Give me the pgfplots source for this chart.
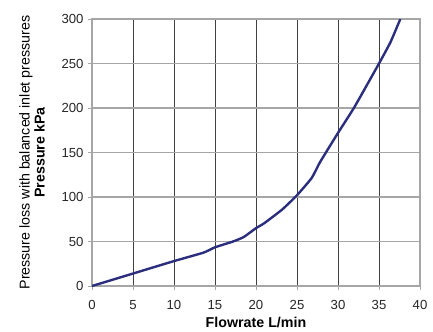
\documentclass[border=0pt]{standalone}
\usepackage{pgfplots}
\pgfplotsset{compat=1.18}
\usepackage{fontspec}
\setmainfont{Liberation Sans}
\definecolor{curve}{HTML}{2B2E7C}
\definecolor{gridh}{HTML}{A6A6A6}
\definecolor{gridv}{HTML}{404040}
\begin{document}
\begin{tikzpicture}
\begin{axis}[
  scale only axis,
  width=328bp, height=267bp,
  xmin=0, xmax=40, ymin=0, ymax=300,
  xtick={0,5,...,40}, ytick={0,50,...,300},
  grid=major,
  x grid style={gridv, line width=0.6pt},
  y grid style={gridh, line width=1.1pt},
  axis line style={gridh, line width=1.1pt},
  tick style={gridh, line width=0.8pt},
  tick align=outside,
  major tick length=4bp,
  xtick pos=bottom, ytick pos=left,
  /pgf/number format/assume math mode=true,
  tick label style={font=\fontsize{13.2}{15}\selectfont, text=black!85},
  xticklabel style={yshift=-7bp},
  yticklabel style={xshift=-1bp},
]
\addplot[curve, line width=2.4bp, smooth, tension=0.3] coordinates {
(0,0) (5,14) (10,28) (13.6,37.5) (15,43.5) (17.2,50) (18.5,55) (20,65) (21,70.5)
(23.2,86) (25,102) (26.8,121.5) (27.8,139) (30,172) (32,201) (35,250) (36.4,274) (37.6,300)
};
\coordinate (sw) at (rel axis cs:0,0);
\coordinate (ne) at (rel axis cs:1,1);
\coordinate (wl) at (rel axis cs:0,0.5);
\coordinate (bm) at (rel axis cs:0.5,0);
\end{axis}
\node[rotate=90, anchor=south, align=center, inner sep=0pt,
  font=\fontsize{14.3}{15}\selectfont] at ([xshift=-47bp]wl)
  {Pressure loss with balanced inlet pressures\\\textbf{Pressure kPa}};
\node[anchor=base, inner sep=0pt, font=\fontsize{14.3}{15}\selectfont]
  at ([yshift=-41bp]bm) {\textbf{Flowrate L/min}};
\pgfresetboundingbox
\path ([shift={(-92bp,-46bp)}]sw) rectangle ([shift={(13bp,19bp)}]ne);
\end{tikzpicture}
\end{document}
